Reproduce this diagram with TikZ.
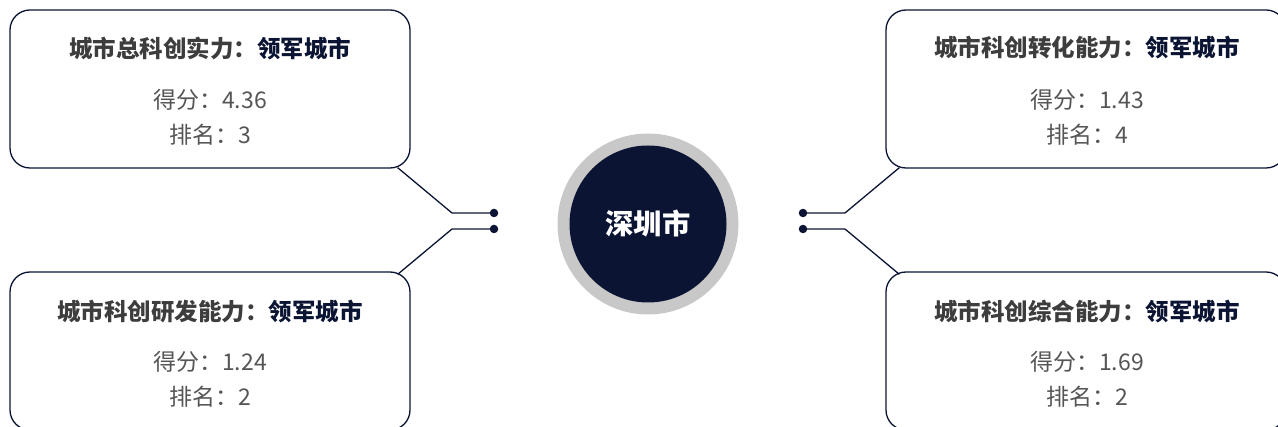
\documentclass[tikz,border=0pt]{standalone}
\usepackage{fontspec}
\setmainfont{Noto Sans CJK SC}
\newfontfamily\cjk{Noto Sans CJK SC}
\definecolor{navy}{HTML}{0B1533}
\definecolor{ringgray}{HTML}{C8C8C8}
\definecolor{titlegray}{HTML}{3D3D3D}
\definecolor{bodygray}{HTML}{555555}
\tikzset{
  card/.style={draw=navy, line width=1.3pt, rounded corners=20pt, minimum width=400pt, minimum height=158pt, inner sep=0pt},
  cardtitle/.style={font=\cjk\fontsize{23.5pt}{26pt}\selectfont\bfseries, text=titlegray, inner sep=0pt},
  cardbody/.style={font=\cjk\fontsize{23pt}{26pt}\selectfont, text=bodygray, inner sep=0pt},
  link/.style={draw=navy, line width=1.3pt},
  dotnode/.style={circle, fill=navy, minimum size=8.5pt, inner sep=0pt},
}
\newcommand{\lead}{\textcolor{navy}{领军城市}}
\begin{document}
\begin{tikzpicture}[x=1pt,y=-1pt]
\useasboundingbox (0,0) rectangle (1278,427);
% cards
\node[card] (tl) at (210,89) {};
\node[card] (bl) at (210,351) {};
\node[card] (tr) at (1086,89) {};
\node[card] (br) at (1086,351) {};
% texts
\node[cardtitle] (tlt) at (210,48) {城市总科创实力：\lead};
\node[cardbody] (tls) at (210,100) {得分：4.36};
\node[cardbody] (tlr) at (210,135) {排名：3};
\node[cardtitle] (blt) at (210,312) {城市科创研发能力：\lead};
\node[cardbody] (bls) at (210,362) {得分：1.24};
\node[cardbody] (blr) at (210,397) {排名：2};
\node[cardtitle] (trt) at (1087,48) {城市科创转化能力：\lead};
\node[cardbody] (trs) at (1087,100) {得分：1.43};
\node[cardbody] (trr) at (1087,135) {排名：4};
\node[cardtitle] (brt) at (1087,312) {城市科创综合能力：\lead};
\node[cardbody] (brs) at (1087,362) {得分：1.69};
\node[cardbody] (brr) at (1087,397) {排名：2};
% center
\node[circle, fill=ringgray, minimum size=181pt, inner sep=0pt] (ring) at (648,224) {};
\node[circle, fill=navy, minimum size=157pt, inner sep=0pt, text=white, font=\cjk\fontsize{28.3pt}{31pt}\selectfont\bfseries] (city) at (648,224) {深圳市};
% dots
\node[dotnode] (d1) at (494,213) {};
\node[dotnode] (d2) at (494,229) {};
\node[dotnode] (d3) at (803,213) {};
\node[dotnode] (d4) at (803,229) {};
% connector anchors
\coordinate (c1) at ([shift={(-13,-1)}]tl.south east);
\coordinate (c2) at ([shift={(-13,3)}]bl.north east);
\coordinate (c3) at ([shift={(14,-1)}]tr.south west);
\coordinate (c4) at ([shift={(14,3)}]br.north west);
\draw[link] (c1) -- (452,213) -- (d1.center);
\draw[link] (c2) -- (452,229) -- (d2.center);
\draw[link] (c3) -- (845,213) -- (d3.center);
\draw[link] (c4) -- (845,229) -- (d4.center);
\end{tikzpicture}
\end{document}
